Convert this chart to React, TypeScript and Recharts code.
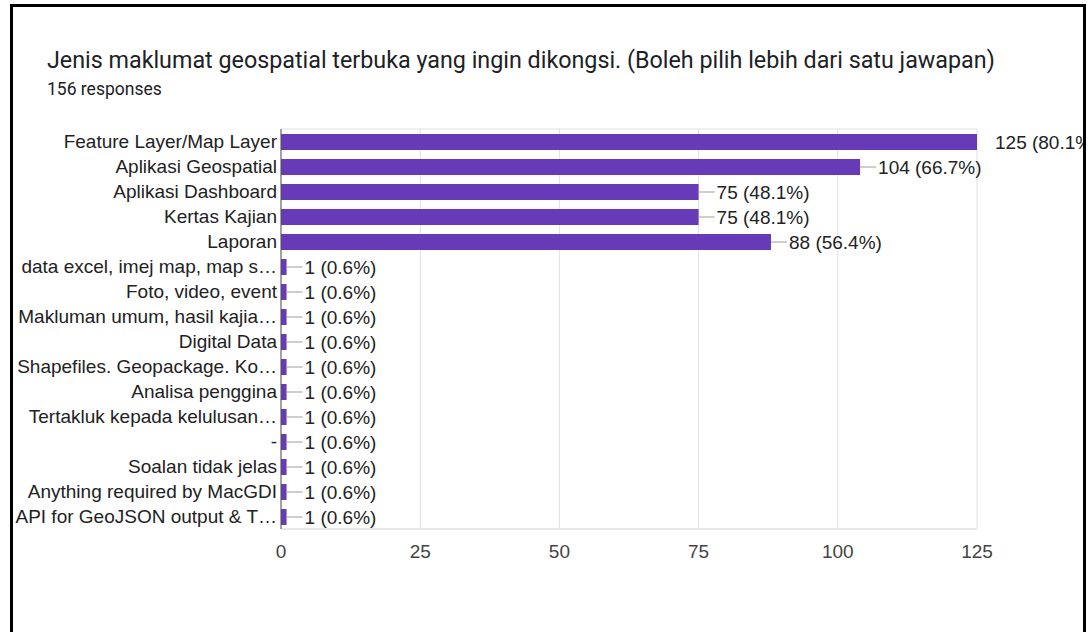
import React from "react"
import { BarChart, Bar, XAxis, YAxis, CartesianGrid, LabelList } from "recharts"

const categories = [
  "Feature Layer/Map Layer",
  "Aplikasi Geospatial",
  "Aplikasi Dashboard",
  "Kertas Kajian",
  "Laporan",
  "data excel, imej map, map s…",
  "Foto, video, event",
  "Makluman umum, hasil kajia…",
  "Digital Data",
  "Shapefiles. Geopackage. Ko…",
  "Analisa penggina",
  "Tertakluk kepada kelulusan…",
  "-",
  "Soalan tidak jelas",
  "Anything required by MacGDI",
  "API for GeoJSON output & T…",
]

const counts = [125, 104, 75, 75, 88, 1, 1, 1, 1, 1, 1, 1, 1, 1, 1, 1]

const xTicks = [0, 25, 50, 75, 100, 125]

const totalResponses = 156

const data = categories.map((name, i) => ({ name, value: counts[i] }))
const maxCount = Math.max(...counts)

const FONT = "'Liberation Sans', Arial, sans-serif"

function ValueLabel(props: any) {
  const { x, y, width, height, value } = props
  const endX = Number(x) + Number(width)
  const cy = Number(y) + Number(height) / 2
  const pct = ((value / totalResponses) * 100).toFixed(1)
  const showLine = value !== maxCount
  return (
    <g>
      {showLine && (
        <line x1={endX} x2={endX + 16} y1={cy} y2={cy} stroke="#9e9e9e" strokeWidth={1} />
      )}
      <text x={endX + 18} y={cy} dy="0.355em" fill="#222" fontSize={19} fontFamily={FONT}>
        {`${value} (${pct}%)`}
      </text>
    </g>
  )
}

export default function App() {
  return (
    <div style={{ position: "absolute", left: 0, top: 0, width: 1092, height: 632, background: "#fff", overflow: "hidden" }}>
      <div
        style={{
          position: "absolute",
          left: 47,
          top: 46,
          fontFamily: "Roboto, sans-serif",
          fontSize: 23.3,
          color: "#202124",
          whiteSpace: "nowrap",
        }}
      >
        Jenis maklumat geospatial terbuka yang ingin dikongsi. (Boleh pilih lebih dari satu jawapan)
      </div>
      <div
        style={{
          position: "absolute",
          left: 47,
          top: 79,
          fontFamily: "Roboto, sans-serif",
          fontSize: 17.5,
          color: "#202124",
          whiteSpace: "nowrap",
        }}
      >
        156 responses
      </div>
      <div style={{ position: "absolute", left: 0, top: 0 }}>
        <BarChart
          width={1092}
          height={632}
          data={data}
          layout="vertical"
          margin={{ top: 129, right: 115, left: 10, bottom: 73 }}
          style={{ fontFamily: FONT }}
        >
          <CartesianGrid
            stroke="#e0e0e0"
            horizontalCoordinatesGenerator={({ offset }: any) => [offset.top, offset.top + offset.height]}
          />
          <XAxis
            type="number"
            domain={[0, 125]}
            ticks={xTicks}
            height={30}
            tickLine={false}
            tickSize={0}
            tickMargin={16}
            axisLine={{ stroke: "#e0e0e0" }}
            tick={{ fill: "#444", fontSize: 19, fontFamily: FONT }}
          />
          <YAxis
            type="category"
            dataKey="name"
            width={271}
            interval={0}
            tickLine={false}
            tickSize={0}
            tickMargin={4}
            axisLine={{ stroke: "#555" }}
            tick={{ fill: "#222", fontSize: 19, fontFamily: FONT }}
          />
          <Bar dataKey="value" fill="#673ab7" barSize={16} isAnimationActive={false}>
            <LabelList dataKey="value" content={ValueLabel} />
          </Bar>
        </BarChart>
      </div>
      <div style={{ position: "absolute", left: 10, top: 4, width: 1076, height: 3, background: "#000" }} />
      <div style={{ position: "absolute", left: 10, top: 4, width: 3, height: 628, background: "#000" }} />
      <div style={{ position: "absolute", left: 1083, top: 4, width: 3, height: 628, background: "#000" }} />
      <div style={{ position: "absolute", left: 1086, top: 0, width: 6, height: 632, background: "#fff" }} />
    </div>
  )
}
